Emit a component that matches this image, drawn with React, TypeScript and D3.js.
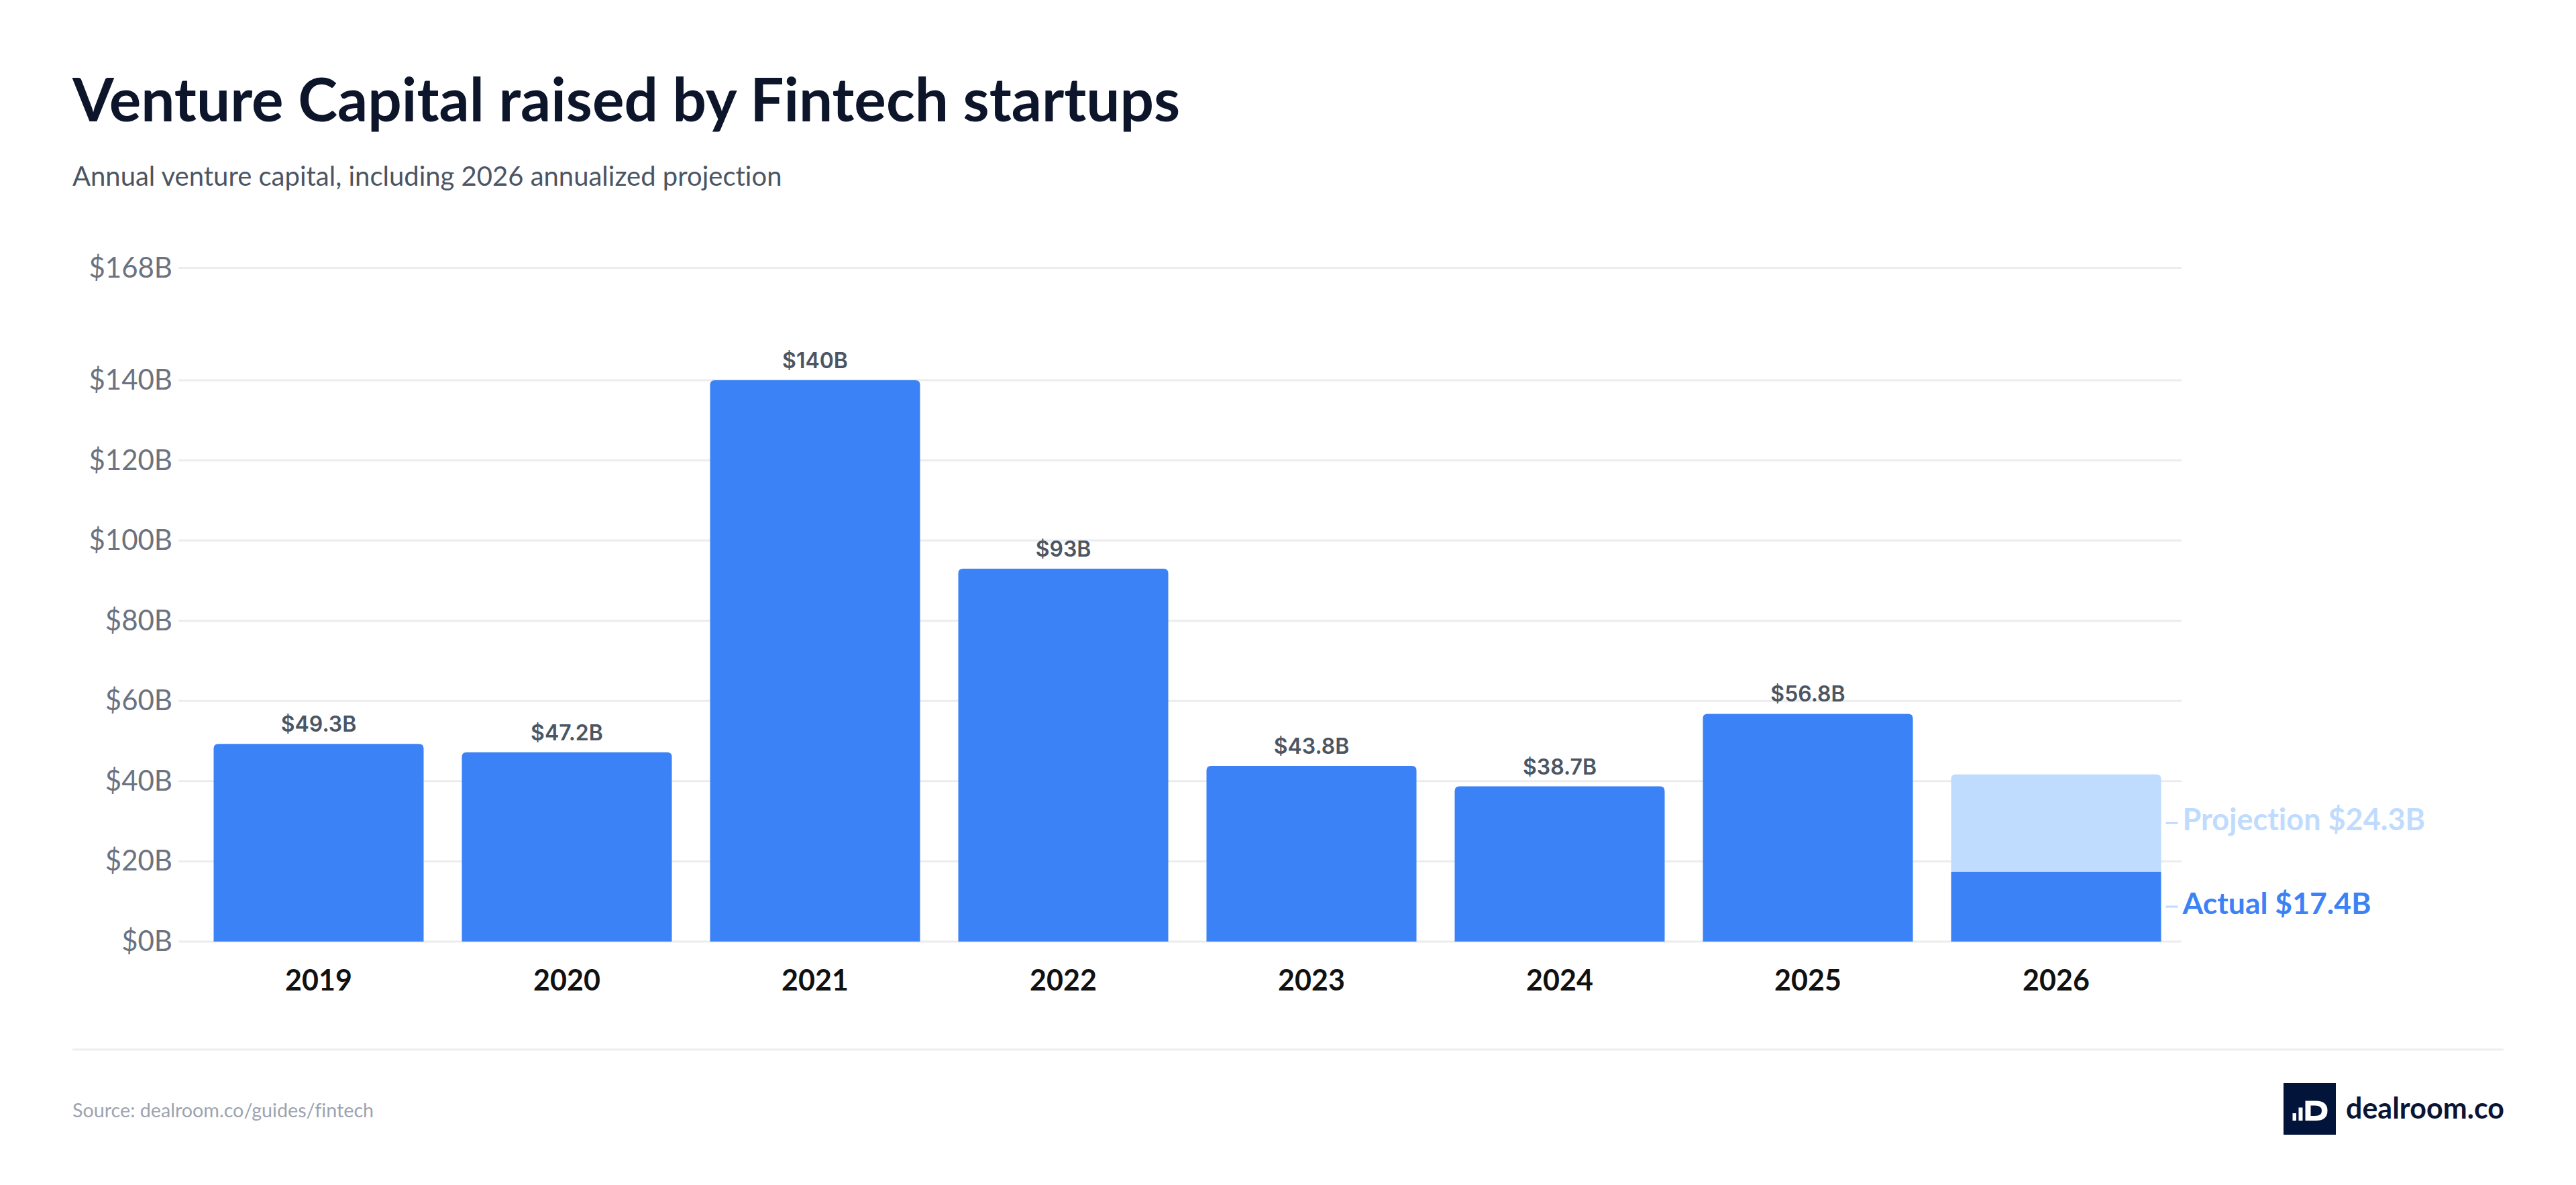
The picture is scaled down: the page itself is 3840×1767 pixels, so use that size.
import React from 'react';
import * as d3 from 'd3';

const years = ['2019', '2020', '2021', '2022', '2023', '2024', '2025', '2026'];
const actualValues = [49.3, 47.2, 140, 93, 43.8, 38.7, 56.8, 17.4];
const projectionValues = [0, 0, 0, 0, 0, 0, 0, 24.3];
const valueLabels = ['$49.3B', '$47.2B', '$140B', '$93B', '$43.8B', '$38.7B', '$56.8B', ''];
const yTicks = [0, 20, 40, 60, 80, 100, 120, 140, 168];
const yTickLabels = yTicks.map((v) => `$${v}B`);
const projectionLabel = 'Projection $24.3B';
const actualLabel = 'Actual $17.4B';
const title = 'Venture Capital raised by Fintech startups';
const subtitle = 'Annual venture capital, including 2026 annualized projection';
const source = 'Source: dealroom.co/guides/fintech';

const W = 3840;
const H = 1767;
const FONT = 'Lato, "Noto Sans", sans-serif';
const LABEL_FONT = 'Inter, "Noto Sans", sans-serif';
const BLUE = '#3b82f6';
const LIGHT = '#bfdbfe';

function topRounded(x: number, y: number, w: number, h: number, r: number) {
  const rr = Math.min(r, h, w / 2);
  return `M${x},${y + h}V${y + rr}Q${x},${y} ${x + rr},${y}H${x + w - rr}Q${x + w},${y} ${x + w},${y + rr}V${y + h}Z`;
}

export default function App() {
  const x = d3.scaleBand<string>().domain(years).range([290, 3250]).paddingInner(0.154).paddingOuter(0.077);
  const y = d3.scaleLinear().domain([0, 168]).range([1404, 399.5]);
  const bw = x.bandwidth();
  const last = years.length - 1;
  const lastX = x(years[last])!;
  const projMid = (y(actualValues[last]) + y(actualValues[last] + projectionValues[last])) / 2;
  const actMid = (y(0) + y(actualValues[last])) / 2;

  return (
    <svg
      width={W}
      height={H}
      style={{ position: 'absolute', left: 0, top: 0, background: '#fff', fontVariantLigatures: 'none', fontFeatureSettings: '"liga" 0, "dlig" 0' }}
    >
      <rect x={0} y={0} width={W} height={H} fill="#fff" />
      <text x={108} y={181} fontFamily={FONT} fontWeight={700} fontSize={89} fill="#0d152b">{title}</text>
      <text x={108} y={277} fontFamily={FONT} fontWeight={400} fontSize={40} fill="#4b5563">{subtitle}</text>

      {yTicks.map((t, i) => (
        <g key={t}>
          <line x1={266} x2={3252} y1={y(t)} y2={y(t)} stroke="#ececec" strokeWidth={3} />
          <text x={257} y={y(t) + 14} textAnchor="end" fontFamily={FONT} fontSize={42} fill="#6b7280">{yTickLabels[i]}</text>
        </g>
      ))}

      {years.map((yr, i) => {
        const bx = x(yr)!;
        const a = actualValues[i];
        const p = projectionValues[i];
        return (
          <g key={yr}>
            {p > 0 ? (
              <>
                <path d={topRounded(bx, y(a + p), bw, y(a) - y(a + p), 7)} fill={LIGHT} />
                <rect x={bx} y={y(a)} width={bw} height={y(0) - y(a)} fill={BLUE} />
              </>
            ) : (
              <path d={topRounded(bx, y(a), bw, y(0) - y(a), 7)} fill={BLUE} />
            )}
            {valueLabels[i] && (
              <text x={bx + bw / 2} y={y(a) - 18} textAnchor="middle" fontFamily={LABEL_FONT} fontWeight={600} fontSize={32} fill="#4b5563">{valueLabels[i]}</text>
            )}
            <text x={bx + bw / 2} y={1477} textAnchor="middle" fontFamily={FONT} fontWeight={700} fontSize={43} fill="#111111">{yr}</text>
          </g>
        );
      })}

      <line x1={lastX + bw + 7} x2={lastX + bw + 25} y1={projMid} y2={projMid} stroke={LIGHT} strokeWidth={3} />
      <text x={lastX + bw + 32} y={projMid + 11} fontFamily={FONT} fontWeight={700} fontSize={45} fill={LIGHT}>{projectionLabel}</text>
      <line x1={lastX + bw + 7} x2={lastX + bw + 25} y1={actMid} y2={actMid} stroke={LIGHT} strokeWidth={3} />
      <text x={lastX + bw + 32} y={actMid + 11} fontFamily={FONT} fontWeight={700} fontSize={44.5} fill={BLUE}>{actualLabel}</text>

      <line x1={108} x2={3732} y1={1565} y2={1565} stroke="#eeeeee" strokeWidth={3} />
      <text x={108} y={1666} fontFamily={FONT} fontSize={28.7} fill="#9ca3af">{source}</text>

      <g>
        <rect x={3404} y={1615} width={78} height={77} fill="#03143a" />
        <rect x={3417.5} y={1660} width={5.5} height={11} fill="#fff" />
        <rect x={3426.5} y={1651.5} width={6} height={19.5} fill="#fff" />
        <path
          fillRule="evenodd"
          d="M3436.5,1641.5H3452Q3469.5,1641.5 3469.5,1656.2Q3469.5,1671 3452,1671H3436.5ZM3444.5,1648.5V1664H3451Q3461,1664 3461,1656.2Q3461,1648.5 3451,1648.5Z"
          fill="#fff"
        />
        <text x={3497} y={1668} fontFamily={FONT} fontWeight={700} fontSize={43} fill="#0b1533">dealroom.co</text>
      </g>
    </svg>
  );
}
